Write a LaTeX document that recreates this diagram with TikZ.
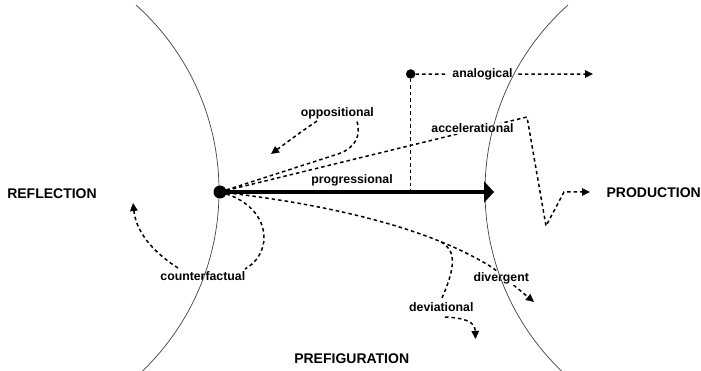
\documentclass[tikz,border=0pt]{standalone}
\usepackage{fontspec}
\setmainfont{Liberation Sans}
\usetikzlibrary{arrows.meta}
\pgfdeclarelayer{background}
\pgfdeclarelayer{fg}
\pgfdeclarelayer{top}
\pgfsetlayers{background,main,fg,top}
\begin{document}
\begin{tikzpicture}[x=1pt,y=-1pt,
  lbl/.style={font=\bfseries\fontsize{12.3}{14}\selectfont, inner sep=1pt, anchor=base, fill=white},
  big/.style={font=\bfseries\fontsize{14}{16}\selectfont, inner sep=0pt, anchor=base},
  dsh/.style={line width=1.5pt, dash pattern=on 3.5pt off 3pt},
  dar/.style={dsh, -{Triangle[length=8pt,width=7.5pt]}},
  dotn/.style={circle, fill=black, inner sep=0pt},
  rim/.style={line width=0.7pt, black!75}]
\useasboundingbox (0,0) rectangle (701,371);

% dots and main arrow
\begin{pgfonlayer}{top}
\node[dotn, minimum size=13pt] (M) at (220,192) {};
\node[dotn, minimum size=9.5pt] (A) at (410.7,74) {};
\coordinate (P) at (494,192);
\draw[line width=4.7pt, -{Triangle[length=10pt,width=21pt]}] (M.center) -- (P);
\end{pgfonlayer}

% labels
\node[lbl] (prog) at (352,184) {progressional};
\node[lbl, inner xsep=5.5pt] (anl) at (482.5,77.5) {analogical};
\node[lbl] (acc) at (472.5,132.5) {accelerational};
\node[lbl] (opp) at (337.3,116.5) {oppositional};
\node[lbl] (cf) at (202.8,280.5) {counterfactual};
\node[lbl] (dvg) at (501.2,281) {divergent};
\node[lbl] (dvt) at (441.3,311.7) {deviational};
\node[big] (refl) at (52,198.3) {REFLECTION};
\node[big] (prod) at (653.7,197.3) {PRODUCTION};
\node[big] (pref) at (351.7,363.3) {PREFIGURATION};

% coordinates
\coordinate (Abot) at (410.7,189.5);
\coordinate (Aend) at (593,74);
\coordinate (Apk) at (527,117);
\coordinate (Abt) at (546,226);
\coordinate (Acn) at (564,192);
\coordinate (Aar) at (590,192);
\coordinate (o1) at (338,154);
\coordinate (o2) at (357,121);
\coordinate (o3) at (317,121);
\coordinate (oarr) at (271,154);
\coordinate (c1) at (245,269);
\coordinate (c2) at (178,268);
\coordinate (carr) at (133,203);
\coordinate (dgk) at (493,268);
\coordinate (dgarr) at (534,302);
\coordinate (dvb) at (441,242);
\coordinate (dv1) at (442,298);
\coordinate (dv2) at (445,317);
\coordinate (dvarr) at (475.5,339);

% connectors
\begin{pgfonlayer}{background}
\draw[dsh] (A) -- (Abot);
\draw[dsh] (A) -- (anl);
\draw[dar] (anl) -- (Aend);
\draw[dar] (M) -- (Apk) -- (Abt) -- (Acn) -- (Aar);
\draw[dsh] (M) -- (o1) .. controls (356,148) and (361,135) .. (o2);
\draw[dar] (o3) .. controls (302,131) and (286,143) .. (oarr);
\draw[dsh] (M) .. controls (270,208) and (275,252) .. (c1);
\draw[dar] (c2) .. controls (150,250) and (136,230) .. (carr);
\draw[dar] (M) .. controls (330,205) and (430,228) .. (dgk) -- (dgarr);
\draw[dsh] (dvb) .. controls (456,250) and (456,266) .. (dv1);
\draw[dar] (dv2) .. controls (466,318) and (475,322) .. (dvarr);
\end{pgfonlayer}

% arcs
\begin{pgfonlayer}{fg}
\begin{scope}
\clip (0,6) rectangle (701,371);
\draw[rim] (-31,191) circle[radius=250];
\draw[rim] (735,191) circle[radius=250];
\end{scope}
\end{pgfonlayer}
\end{tikzpicture}
\end{document}
